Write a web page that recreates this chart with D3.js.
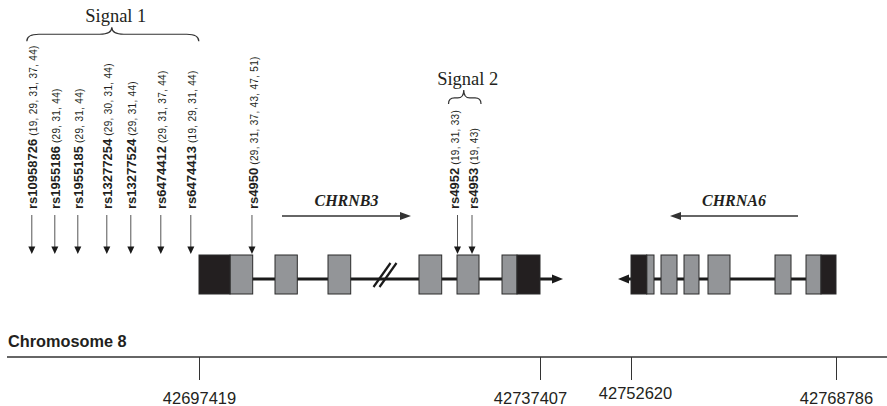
<!DOCTYPE html>
<html>
<head>
<meta charset="utf-8">
<script src="https://cdn.jsdelivr.net/npm/d3@7"></script>
<style>
  html, body { margin: 0; padding: 0; background: #fff; }
  svg { display: block; }
</style>
</head>
<body>
<svg id="chart" width="887" height="406"></svg>
<script>
// ---- Chromosome 8 region: CHRNB3 / CHRNA6 (bp positions, schematic) ----
const axisTicks = [42697419, 42737407, 42752620, 42768786];

// CHRNB3 (forward strand)
const chrnb3Utr = [[42697419, 42701054], [42734711, 42737407]];
const chrnb3Cds = [[42701054, 42703716], [42706332, 42708947], [42712547, 42715209],
                   [42723218, 42725880], [42727675, 42730255], [42732952, 42734711]];
const chrnb3Line = [42697419, 42741252];
const chrnb3Dir = [42707152, 42722280];
const intronBreak = 42719231;

// CHRNA6 (reverse strand)
const chrna6Utr = [[42752620, 42753858], [42767603, 42768786]];
const chrna6Cds = [[42753858, 42754434], [42754986, 42756248], [42756800, 42757982],
                   [42758692, 42760427], [42763976, 42765238], [42766421, 42767603]];
const chrna6Line = [42768786, 42750447];
const chrna6Dir = [42765790, 42755696];

// SNPs with the study references reporting them
const snpNames = ["rs10958726", "rs1955186", "rs1955185", "rs13277254", "rs13277524",
                  "rs6474412", "rs6474413", "rs4950", "rs4952", "rs4953"];
const snpPos = [42680700, 42683000, 42685300, 42688200, 42690600,
                42693600, 42696600, 42703630, 42727734, 42729434];
const snpRefs = ["(19, 29, 31, 37, 44)", "(29, 31, 44)", "(29, 31, 44)", "(29, 30, 31, 44)",
                 "(29, 31, 44)", "(29, 31, 37, 44)", "(19, 29, 31, 44)",
                 "(29, 31, 37, 43, 47, 51)", "(19, 31, 33)", "(19, 43)"];

// association signals (SNP groups)
const signalNames = ["Signal 1", "Signal 2"];
const signalSnps = [
  ["rs10958726", "rs1955186", "rs1955185", "rs13277254", "rs13277524", "rs6474412", "rs6474413"],
  ["rs4952", "rs4953"]
];

// ---- layout ----
const ink = "#231f20";
const sans = "'Liberation Sans', Arial, sans-serif";
const serif = "'Liberation Serif', 'Times New Roman', serif";
const exonTop = 255, exonH = 39, lineY = 279;
const axisY = 357;

const svg = d3.select("#chart");

// piecewise scale: the long CHRNB3 intron and the flanking regions are compressed
const x = d3.scaleLinear()
  .domain([42677519, 42697419, 42737407, 42752620, 42768786, 42772808])
  .range([0, 199, 540, 631, 836, 887]);

// ---- gene models ----
function arrowHead(g, tipX, tipY, dir, len, half, fill) {
  g.append("path")
    .attr("d", `M${tipX},${tipY} L${tipX - dir * len},${tipY - half} L${tipX - dir * len},${tipY + half} Z`)
    .attr("fill", fill);
}

function drawGene(line) {
  const g = svg.append("g");
  const x0 = x(line[0]), x1 = x(line[1]);
  const dir = x1 > x0 ? 1 : -1;
  g.append("line")
    .attr("x1", x0).attr("x2", x1 - dir * 6)
    .attr("y1", lineY).attr("y2", lineY)
    .attr("stroke", "#1a1a1a").attr("stroke-width", 3);
  arrowHead(g, x1, lineY, dir, 11, 4.5, "#1a1a1a");
  return g;
}

function drawExons(g, list, fill) {
  g.selectAll(null).data(list).join("rect")
    .attr("x", d => x(d[0]))
    .attr("width", d => x(d[1]) - x(d[0]))
    .attr("y", exonTop).attr("height", exonH)
    .attr("fill", fill)
    .attr("stroke", "#2b2b2b").attr("stroke-width", 1);
}

const gB3 = drawGene(chrnb3Line);
// intron break mark
const bx = x(intronBreak);
[-3, 3].forEach(o => {
  gB3.append("line")
    .attr("x1", bx + o - 8.5).attr("y1", 287)
    .attr("x2", bx + o + 8.5).attr("y2", 263)
    .attr("stroke", "#1a1a1a").attr("stroke-width", 2.2);
});
drawExons(gB3, chrnb3Cds, "#939598");
drawExons(gB3, chrnb3Utr, "#231f20");

const gA6 = drawGene(chrna6Line);
drawExons(gA6, chrna6Cds, "#939598");
drawExons(gA6, chrna6Utr, "#231f20");

// transcription direction arrows with gene names
function dirArrow(span, name) {
  const g = svg.append("g");
  const a = x(span[0]), b = x(span[1]);
  const dir = b > a ? 1 : -1;
  g.append("line")
    .attr("x1", a).attr("x2", b - dir * 6)
    .attr("y1", 216).attr("y2", 216)
    .attr("stroke", "#333").attr("stroke-width", 1.3);
  arrowHead(g, b, 216, dir, 11, 4, "#333");
  g.append("text")
    .attr("x", (a + b) / 2).attr("y", 206)
    .attr("text-anchor", "middle")
    .attr("font-family", serif).attr("font-size", 16)
    .attr("font-weight", "bold").attr("font-style", "italic")
    .attr("fill", ink)
    .text(name);
}
dirArrow(chrnb3Dir, "CHRNB3");
dirArrow(chrna6Dir, "CHRNA6");

// ---- SNP markers ----
const labelShift = { rs4952: -4, rs4953: 1, rs4950: 1 };
const snps = snpNames.map((n, i) => ({ name: n, pos: snpPos[i], refs: snpRefs[i] }));

const snpG = svg.append("g").selectAll("g").data(snps).join("g");
snpG.append("line")
  .attr("x1", d => x(d.pos)).attr("x2", d => x(d.pos))
  .attr("y1", 215).attr("y2", 248)
  .attr("stroke", "#555").attr("stroke-width", 1);
snpG.append("path")
  .attr("d", d => `M${x(d.pos)},254 L${x(d.pos) - 3.5},246.5 L${x(d.pos) + 3.5},246.5 Z`)
  .attr("fill", "#1a1a1a");
const labels = snpG.append("text")
  .attr("class", "snp-label")
  .attr("transform", d => `translate(${x(d.pos) + 5 + (labelShift[d.name] || 0)},209) rotate(-90)`)
  .attr("font-family", sans)
  .attr("fill", ink);
labels.append("tspan")
  .attr("font-size", 13).attr("font-weight", "bold")
  .text(d => d.name);
labels.append("tspan")
  .attr("font-size", 10).attr("letter-spacing", 0.3)
  .text(d => " " + d.refs);

// ---- signal braces ----
function bracePath(x1, x2, xc, yEnd, yMid, yTip, r) {
  return `M${x1},${yEnd} Q${x1},${yMid} ${x1 + r},${yMid} L${xc - r},${yMid} ` +
         `Q${xc},${yMid} ${xc},${yTip} Q${xc},${yMid} ${xc + r},${yMid} ` +
         `L${x2 - r},${yMid} Q${x2},${yMid} ${x2},${yEnd}`;
}
signalNames.forEach((name, i) => {
  const boxes = labels.filter(d => signalSnps[i].includes(d.name)).nodes()
    .map(n => n.getBoundingClientRect());
  const left = d3.min(boxes, b => b.left), right = d3.max(boxes, b => b.right);
  const top = d3.min(boxes, b => b.top);
  const big = i === 0;
  const yEnd = top - (big ? 4 : 6);
  const yMid = yEnd - (big ? 7 : 6);
  const yTip = yMid - (big ? 7 : 8);
  const xc = (left + right) / 2;
  svg.append("path")
    .attr("d", bracePath(left + 2, right, xc, yEnd, yMid, yTip, big ? 12 : 6))
    .attr("fill", "none").attr("stroke", "#333").attr("stroke-width", 1.2);
  svg.append("text")
    .attr("x", xc + 4).attr("y", yTip - 5)
    .attr("text-anchor", "middle")
    .attr("font-family", serif).attr("font-size", 18.5)
    .attr("fill", ink)
    .text(name);
});

// ---- chromosome axis ----
svg.append("text")
  .attr("x", 8).attr("y", 347)
  .attr("font-family", sans).attr("font-size", 16.3).attr("font-weight", "bold")
  .attr("fill", ink)
  .text("Chromosome 8");

const labelNudge = { 42737407: [-10, 0], 42752620: [4, -5] };
const axisG = svg.append("g")
  .attr("transform", `translate(0,${axisY})`)
  .call(d3.axisBottom(x).tickValues(axisTicks).tickSize(23).tickPadding(12)
        .tickFormat(d3.format("d")));
axisG.select(".domain").remove();
axisG.append("line")
  .attr("x1", 7).attr("x2", 887).attr("y1", 0).attr("y2", 0)
  .attr("stroke", "#333").attr("stroke-width", 1.3);
axisG.selectAll(".tick line").attr("stroke", "#333").attr("stroke-width", 1);
axisG.selectAll(".tick text")
  .attr("font-family", sans).attr("font-size", 16.5).attr("fill", ink)
  .attr("dx", d => (labelNudge[d] || [0, 0])[0])
  .attr("transform", d => `translate(0,${(labelNudge[d] || [0, 0])[1]})`);
</script>
</body>
</html>
